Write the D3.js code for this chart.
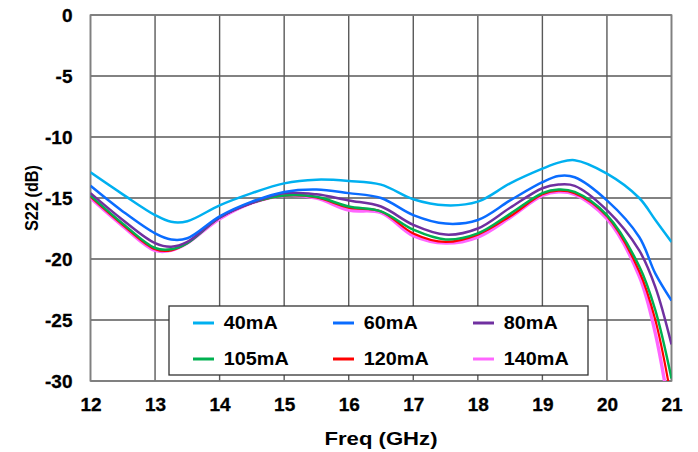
<!DOCTYPE html>
<html>
<head>
  <meta charset="utf-8">
  <title>S22 vs Freq</title>
  <script src="https://d3js.org/d3.v7.min.js"></script>
  <style>
    body { margin: 0; background: #fff; }
  </style>
</head>
<body>
<div id="chart"></div>
<script>

// Frequencies (GHz) where the curves were read
const freqs = [12, 12.5, 13, 13.25, 13.5, 14, 14.5, 15, 15.5, 16, 16.5, 17, 17.5, 18, 18.5, 19, 19.25, 19.5, 20, 20.5, 20.75, 21];

// S22 (dB) for each bias current
const s40  = [-12.9, -14.7, -16.4, -16.95, -16.9, -15.6, -14.6, -13.8, -13.5, -13.6, -13.9, -15.1, -15.6, -15.3, -13.8, -12.6, -12.1, -11.9, -13.0, -15.0, -16.8, -18.6];
const s60  = [-14.0, -16.1, -17.9, -18.4, -18.3, -16.5, -15.3, -14.5, -14.3, -14.6, -15.0, -16.4, -17.1, -16.8, -15.2, -13.7, -13.2, -13.3, -15.2, -18.2, -21.2, -23.4];
const s80  = [-14.6, -16.8, -18.7, -19.0, -18.6, -16.6, -15.4, -14.6, -14.7, -15.2, -15.7, -17.2, -18.0, -17.5, -15.8, -14.2, -13.9, -14.0, -16.0, -19.3, -22.3, -27.0];
const s105 = [-14.8, -17.1, -19.1, -19.2, -18.7, -16.6, -15.4, -14.8, -14.9, -15.7, -16.1, -17.6, -18.4, -17.9, -16.3, -14.6, -14.3, -14.5, -16.4, -20.6, -24.2, -29.8];
const s120 = [-14.9, -17.2, -19.2, -19.3, -18.7, -16.6, -15.4, -14.8, -14.95, -15.8, -16.1, -17.9, -18.6, -18.0, -16.5, -14.7, -14.4, -14.6, -16.5, -21.0, -25.0, -31.5];
const s140 = [-15.0, -17.3, -19.3, -19.3, -18.7, -16.7, -15.4, -14.8, -15.0, -16.0, -16.2, -18.1, -18.7, -18.2, -16.6, -14.8, -14.5, -14.7, -16.7, -21.4, -26.1, -33.5];

const seriesNames = ["40mA", "60mA", "80mA", "105mA", "120mA", "140mA"];
const seriesValues = [s40, s60, s80, s105, s120, s140];

const xTicks = [12, 13, 14, 15, 16, 17, 18, 19, 20, 21];
const yTicks = [0, -5, -10, -15, -20, -25, -30];

// Colours and line widths
const colors = ["#00b0f0", "#0a6cff", "#7030a0", "#00b050", "#ff0000", "#ff66ff"];
const widths = [2.5, 2.5, 2.5, 2.5, 2.2, 3.4];

const FONT = "'Liberation Sans', Arial, sans-serif";

// Layout
const W = 698, H = 452;
const margin = {top: 15, right: 26.5, bottom: 71, left: 90.5},
    width = W - margin.left - margin.right,
    height = H - margin.top - margin.bottom;

const svg = d3.select("#chart")
  .append("svg")
    .attr("width", W)
    .attr("height", H);

const g = svg.append("g")
  .attr("transform", `translate(${margin.left},${margin.top})`);

const x = d3.scaleLinear().domain([12, 21]).range([0, width]);
const y = d3.scaleLinear().domain([-30, 0]).range([height, 0]);

// Grid lines
g.append("g")
  .selectAll("line")
  .data(xTicks)
  .join("line")
    .attr("x1", d => x(d)).attr("x2", d => x(d))
    .attr("y1", 0).attr("y2", height)
    .attr("stroke", "#595959")
    .attr("stroke-width", 1.4);

g.append("g")
  .selectAll("line")
  .data(yTicks)
  .join("line")
    .attr("x1", 0).attr("x2", width)
    .attr("y1", d => y(d)).attr("y2", d => y(d))
    .attr("stroke", "#595959")
    .attr("stroke-width", 1.4);

// Plot frame
g.append("rect")
  .attr("width", width)
  .attr("height", height)
  .attr("fill", "none")
  .attr("stroke", "#808080")
  .attr("stroke-width", 1.6);

// Axes (tick labels only)
function styleTicks(sel) {
  sel.select(".domain").remove();
  sel.attr("font-family", FONT).attr("font-size", 19);
  sel.selectAll("text")
    .style("font-family", FONT)
    .style("font-weight", "bold")
    .style("font-size", "19px")
    .attr("fill", "#000")
    .attr("stroke", "#000")
    .attr("stroke-width", 0.3);
}

const xAxis = g.append("g")
  .attr("transform", `translate(0,${height})`)
  .call(d3.axisBottom(x).tickValues(xTicks).tickSize(0).tickPadding(17).tickFormat(d => String(d)));
styleTicks(xAxis);

const yAxis = g.append("g")
  .call(d3.axisLeft(y).tickValues(yTicks).tickSize(0).tickPadding(18).tickFormat(d => String(d)));
styleTicks(yAxis);

// Clip the curves to the plot area
svg.append("defs").append("clipPath")
  .attr("id", "plotClip")
  .append("rect")
    .attr("width", width)
    .attr("height", height);

const line = d3.line()
  .x(d => x(d[0]))
  .y(d => y(d[1]))
  .curve(d3.curveCatmullRom.alpha(0.5));

// Draw the highest current first so the others sit on top
const order = [5, 4, 3, 2, 1, 0];
g.append("g")
  .attr("clip-path", "url(#plotClip)")
  .selectAll("path")
  .data(order)
  .join("path")
    .attr("fill", "none")
    .attr("stroke", i => colors[i])
    .attr("stroke-width", i => widths[i])
    .attr("stroke-linejoin", "round")
    .attr("d", i => line(freqs.map((f, k) => [f, seriesValues[i][k]])));

// Legend
const legend = svg.append("g").attr("transform", "translate(169,306)");
legend.append("rect")
  .attr("width", 419)
  .attr("height", 69)
  .attr("fill", "#fff")
  .attr("stroke", "#333")
  .attr("stroke-width", 1.3);

const item = legend.selectAll("g.item")
  .data(seriesNames)
  .join("g")
    .attr("class", "item")
    .attr("transform", (d, i) => `translate(${24 + (i % 3) * 140},${i < 3 ? 17 : 53})`);

item.append("line")
  .attr("x1", 0).attr("x2", 21)
  .attr("stroke", (d, i) => colors[i])
  .attr("stroke-width", 3);

item.append("text")
  .attr("x", 28)
  .attr("dy", "0.36em")
  .style("font-family", FONT)
  .style("font-weight", "bold")
  .style("font-size", "18px")
  .attr("transform", "scale(1.1,1)")
  .text(d => d);

// Axis titles
svg.append("text")
  .attr("text-anchor", "middle")
  .attr("transform", `translate(${margin.left + width / 2},445)`)
  .attr("textLength", 113)
  .attr("lengthAdjust", "spacingAndGlyphs")
  .style("font-family", FONT)
  .style("font-weight", "bold")
  .style("font-size", "19px")
  .text("Freq (GHz)");

svg.append("text")
  .attr("text-anchor", "middle")
  .attr("transform", `translate(38,${margin.top + height / 2}) rotate(-90)`)
  .attr("textLength", 66)
  .attr("lengthAdjust", "spacingAndGlyphs")
  .style("font-family", FONT)
  .style("font-weight", "bold")
  .style("font-size", "18px")
  .text("S22 (dB)");

</script>
</body>
</html>
